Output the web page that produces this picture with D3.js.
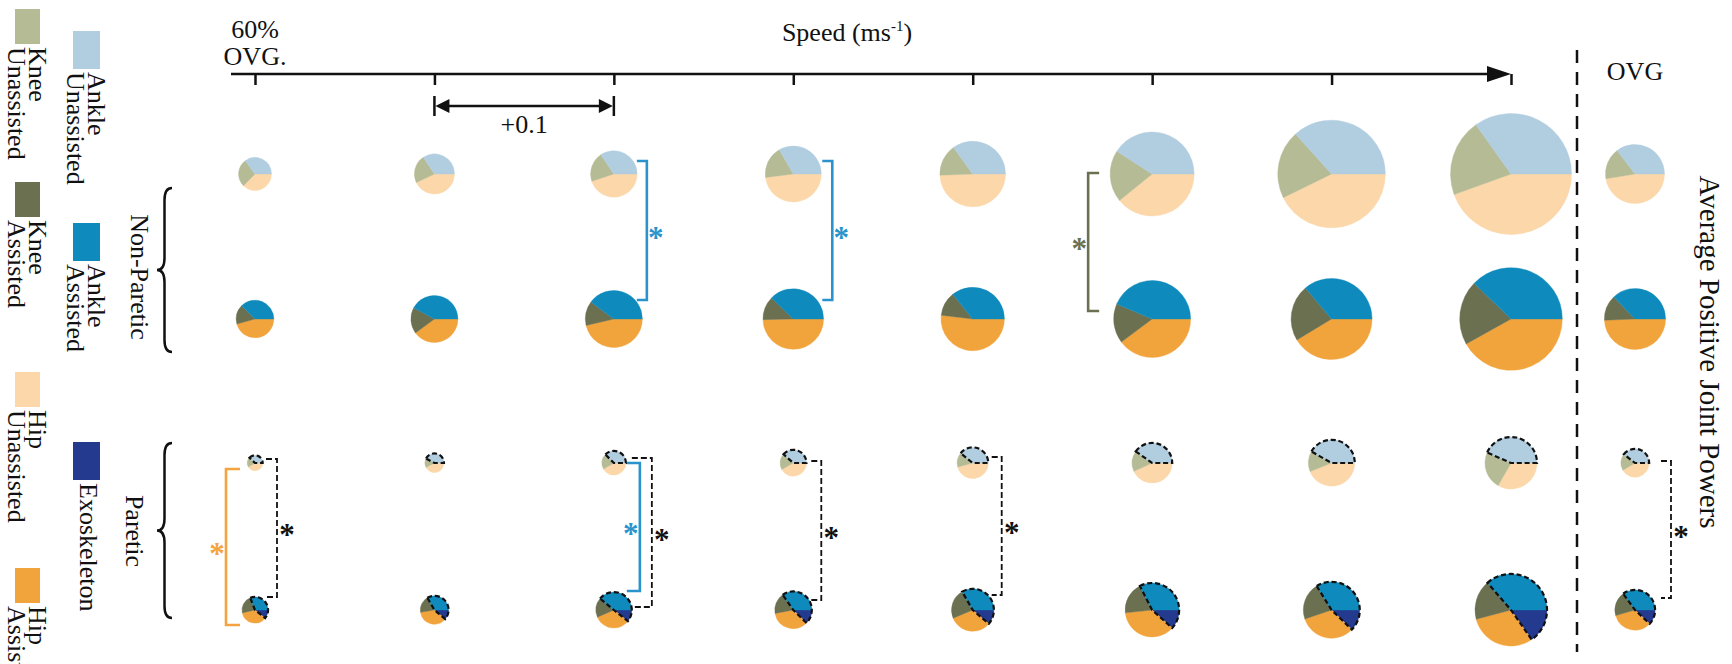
<!DOCTYPE html>
<html>
<head>
<meta charset="utf-8">
<script src="https://cdn.jsdelivr.net/npm/d3@7"></script>
<style>
  body { margin: 0; background: #fff; }
  svg { display: block; }
  text { font-family: "Liberation Serif", "Times New Roman", serif; fill: #111; }
</style>
</head>
<body>
<svg id="chart" width="1732" height="664"></svg>
<script>
// Treadmill speed steps: 60% of overground speed, then +0.1 m/s per step
const speeds = ["60% OVG", "+0.1", "+0.2", "+0.3", "+0.4", "+0.5", "+0.6", "+0.7"];
// Last condition: overground walking
const conditions = [...speeds, "OVG"];

// Average positive joint power (W/kg), one value per condition
// Non-paretic limb, unassisted
const npUnassistedAnkle = [0.047, 0.068, 0.092, 0.129, 0.186, 0.356, 0.524, 0.630, 0.152];
const npUnassistedKnee  = [0.037, 0.045, 0.055, 0.072, 0.083, 0.174, 0.294, 0.374, 0.074];
const npUnassistedHip   = [0.050, 0.085, 0.120, 0.186, 0.263, 0.341, 0.611, 0.804, 0.204];
// Non-paretic limb, assisted
const npAssistedAnkle = [0.066, 0.115, 0.160, 0.171, 0.178, 0.319, 0.293, 0.491, 0.172];
const npAssistedKnee  = [0.029, 0.049, 0.055, 0.057, 0.061, 0.122, 0.182, 0.264, 0.062];
const npAssistedHip   = [0.080, 0.109, 0.186, 0.225, 0.258, 0.291, 0.335, 0.545, 0.228];
// Paretic limb, unassisted
const pUnassistedAnkle = [0.011, 0.019, 0.027, 0.033, 0.047, 0.080, 0.111, 0.145, 0.039];
const pUnassistedKnee  = [0.006, 0.007, 0.015, 0.017, 0.018, 0.033, 0.038, 0.078, 0.019];
const pUnassistedHip   = [0.012, 0.019, 0.030, 0.036, 0.055, 0.086, 0.117, 0.111, 0.041];
// Paretic limb, assisted (biological ankle + exoskeleton contribution)
const pAssistedAnkle = [0.026, 0.033, 0.062, 0.059, 0.074, 0.117, 0.133, 0.233, 0.070];
const pAssistedKnee  = [0.019, 0.019, 0.028, 0.031, 0.051, 0.069, 0.084, 0.114, 0.039];
const pAssistedHip   = [0.030, 0.036, 0.052, 0.059, 0.072, 0.132, 0.128, 0.196, 0.067];
const pAssistedExo   = [0.009, 0.011, 0.017, 0.021, 0.025, 0.042, 0.048, 0.098, 0.024];

// Legend entries
const legendLeft  = [["Knee", "Unassisted"], ["Knee", "Assisted"], ["Hip", "Unassisted"], ["Hip", "Assisted"]];
const legendRight = [["Ankle", "Unassisted"], ["Ankle", "Assisted"], ["Exoskeleton"]];

// Significant differences (*): column, rows compared, colour group
const significance = [
  { cond: "+0.2", rows: ["npU", "npA"], group: "ankle" },
  { cond: "+0.3", rows: ["npU", "npA"], group: "ankle" },
  { cond: "+0.5", rows: ["npU", "npA"], group: "knee" },
  { cond: "60% OVG", rows: ["pU", "pA"], group: "hip" },
  { cond: "60% OVG", rows: ["pU", "pA"], group: "total" },
  { cond: "+0.2", rows: ["pU", "pA"], group: "ankle" },
  { cond: "+0.2", rows: ["pU", "pA"], group: "total" },
  { cond: "+0.3", rows: ["pU", "pA"], group: "total" },
  { cond: "+0.4", rows: ["pU", "pA"], group: "total" },
  { cond: "OVG", rows: ["pU", "pA"], group: "total" }
];

const colors = {
  ankleU: "#b1cde0", kneeU: "#b5bb95", hipU: "#fbd7a9",
  ankleA: "#0f8abc", kneeA: "#6a7050", hipA: "#f2a43c", exo: "#243a8f"
};
const bracketColors = { ankle: "#2a93cb", knee: "#6a7050", hip: "#f4a43e", total: "#111" };

const svg = d3.select("#chart");

// ---- scales ----
const x = d3.scalePoint().domain(speeds).range([255, 1511]);
const xc = c => c === "OVG" ? 1635 : x(c);
const rowY = { npU: 174, npA: 319, pU: 463, pA: 610 };
const radius = d3.scaleSqrt().domain([0, 1]).range([0, 45]);

const rows = [
  { key: "npU", ankle: npUnassistedAnkle, knee: npUnassistedKnee, hip: npUnassistedHip, exo: null, assisted: false, outline: false },
  { key: "npA", ankle: npAssistedAnkle, knee: npAssistedKnee, hip: npAssistedHip, exo: null, assisted: true, outline: false },
  { key: "pU", ankle: pUnassistedAnkle, knee: pUnassistedKnee, hip: pUnassistedHip, exo: null, assisted: false, outline: true },
  { key: "pA", ankle: pAssistedAnkle, knee: pAssistedKnee, hip: pAssistedHip, exo: pAssistedExo, assisted: true, outline: true }
];

// slices run clockwise from 3 o'clock: exoskeleton, hip, knee, ankle
const pie = d3.pie().sort(null).value(d => d.v)
  .startAngle(Math.PI / 2).endAngle(Math.PI / 2 + 2 * Math.PI);

const pieData = [];
rows.forEach(row => {
  conditions.forEach((c, i) => {
    const parts = [
      { joint: "exo", v: row.exo ? row.exo[i] : 0 },
      { joint: "hip", v: row.hip[i] },
      { joint: "knee", v: row.knee[i] },
      { joint: "ankle", v: row.ankle[i] }
    ];
    const total = d3.sum(parts, p => p.v);
    pieData.push({ row, cond: c, i, parts, total, r: radius(total) });
  });
});

const fillOf = (joint, assisted) => {
  if (joint === "exo") return colors.exo;
  return colors[joint + (assisted ? "A" : "U")];
};

const pies = svg.append("g").attr("class", "pies")
  .selectAll("g").data(pieData).join("g")
  .attr("transform", d => `translate(${xc(d.cond)},${rowY[d.row.key]})`);

pies.each(function (d) {
  const g = d3.select(this);
  const arc = d3.arc().innerRadius(0).outerRadius(d.r);
  const arcs = pie(d.parts);
  g.selectAll("path.slice").data(arcs.filter(a => a.data.v > 0)).join("path")
    .attr("class", "slice")
    .attr("d", arc)
    .attr("fill", a => fillOf(a.data.joint, d.row.assisted))
    .attr("stroke", a => fillOf(a.data.joint, d.row.assisted))
    .attr("stroke-width", 0.4);
  if (d.row.outline) {
    // dashed outline around total ankle power (biological + exoskeleton)
    const ankleArc = arcs.find(a => a.data.joint === "ankle");
    const exoArc = arcs.find(a => a.data.joint === "exo");
    const start = ankleArc.startAngle;
    const end = ankleArc.endAngle + (exoArc.endAngle - exoArc.startAngle);
    g.append("path")
      .attr("d", d3.arc().innerRadius(0).outerRadius(d.r)({ startAngle: start, endAngle: end }))
      .attr("fill", "none").attr("stroke", "#111")
      .attr("stroke-width", 2.2).attr("stroke-dasharray", "5,2.8");
  }
});

// ---- speed axis ----
const axisY = 74;
const axis = svg.append("g").attr("transform", `translate(0,${axisY})`)
  .call(d3.axisBottom(x).tickSize(11).tickSizeOuter(0).tickFormat(""));
axis.select(".domain").remove();
axis.selectAll(".tick line").attr("stroke", "#111").attr("stroke-width", 2.5);
svg.append("line").attr("x1", 231).attr("x2", x.range()[1] - 8)
  .attr("y1", axisY).attr("y2", axisY).attr("stroke", "#111").attr("stroke-width", 2.5);
const xEnd = x.range()[1];
svg.append("path")
  .attr("d", `M${xEnd},${axisY} L${xEnd - 24},${axisY - 8} L${xEnd - 24},${axisY + 8} Z`)
  .attr("fill", "#111");

svg.append("text").attr("x", x(speeds[0])).attr("y", 38).attr("text-anchor", "middle")
  .attr("font-size", 26).text("60%");
svg.append("text").attr("x", x(speeds[0])).attr("y", 65).attr("text-anchor", "middle")
  .attr("font-size", 26).text("OVG.");

const speedLabel = svg.append("text").attr("x", 847).attr("y", 41)
  .attr("text-anchor", "middle").attr("font-size", 26);
speedLabel.append("tspan").text("Speed (ms");
speedLabel.append("tspan").attr("font-size", 15).attr("dy", -10).text("-1");
speedLabel.append("tspan").attr("dy", 10).text(")");

// +0.1 step indicator
const s0 = x(speeds[1]), s1 = x(speeds[2]), sy = 106;
const step = svg.append("g").attr("stroke", "#111").attr("stroke-width", 2.5);
step.append("line").attr("x1", s0 + 6).attr("x2", s1 - 6).attr("y1", sy).attr("y2", sy);
step.append("line").attr("x1", s0).attr("x2", s0).attr("y1", sy - 10).attr("y2", sy + 10);
step.append("line").attr("x1", s1).attr("x2", s1).attr("y1", sy - 10).attr("y2", sy + 10);
svg.append("path")
  .attr("d", `M${s0 + 1},${sy} L${s0 + 15},${sy - 7} L${s0 + 15},${sy + 7} Z M${s1 - 1},${sy} L${s1 - 15},${sy - 7} L${s1 - 15},${sy + 7} Z`)
  .attr("fill", "#111");
svg.append("text").attr("x", (s0 + s1) / 2).attr("y", 133).attr("text-anchor", "middle")
  .attr("font-size", 26).text("+0.1");

// ---- overground separator ----
svg.append("line").attr("x1", 1577).attr("x2", 1577).attr("y1", 50).attr("y2", 652)
  .attr("stroke", "#111").attr("stroke-width", 2.5).attr("stroke-dasharray", "13,9");
svg.append("text").attr("x", xc("OVG")).attr("y", 80).attr("text-anchor", "middle")
  .attr("font-size", 26).text("OVG");

svg.append("text").attr("transform", "translate(1700,352) rotate(90)")
  .attr("text-anchor", "middle").attr("font-size", 29).text("Average Positive Joint Powers");

// ---- limb braces ----
function brace(xEnd, xTip, y0, y1) {
  const xm = (xEnd + xTip) / 2, ym = (y0 + y1) / 2, q = 12;
  return `M${xEnd},${y0} Q${xm},${y0} ${xm},${y0 + q} L${xm},${ym - q} Q${xm},${ym} ${xTip},${ym}` +
         ` Q${xm},${ym} ${xm},${ym + q} L${xm},${y1 - q} Q${xm},${y1} ${xEnd},${y1}`;
}
svg.append("path").attr("d", brace(172, 157, 188, 352))
  .attr("fill", "none").attr("stroke", "#111").attr("stroke-width", 2.5);
svg.append("path").attr("d", brace(172, 157, 443, 618))
  .attr("fill", "none").attr("stroke", "#111").attr("stroke-width", 2.5);
svg.append("text").attr("transform", "translate(131,277) rotate(90)")
  .attr("text-anchor", "middle").attr("font-size", 26).text("Non-Paretic");
svg.append("text").attr("transform", "translate(126,531) rotate(90)")
  .attr("text-anchor", "middle").attr("font-size", 26).text("Paretic");

// ---- significance brackets ----
// dx: vertical bar offset from column centre; tick: tick length; top/bottom: offsets from row centres; star: side
const bracketLayout = [
  { dx: 33, tick: 10, top: -13, bottom: -19, star: 1 },
  { dx: 39, tick: 10, top: -13, bottom: -19, star: 1 },
  { dx: -64, tick: 11, top: -1, bottom: -8, star: -1 },
  { dx: -29, tick: 14, top: 6, bottom: 15, star: -1 },
  { dx: 22, tick: 11, top: -4, bottom: -13, star: 1 },
  { dx: 26, tick: 13, top: 0, bottom: -19, star: -1 },
  { dx: 38, tick: 20, top: -5, bottom: -3, star: 1 },
  { dx: 28, tick: 10, top: -2, bottom: -10, star: 1 },
  { dx: 29, tick: 10, top: -6, bottom: -15, star: 1 },
  { dx: 36, tick: 10, top: -2, bottom: -12, star: 1 }
];
significance.forEach((s, k) => {
  const L = bracketLayout[k];
  const xv = xc(s.cond) + L.dx;
  const xt = xv - Math.sign(L.dx) * L.tick;
  const y0 = rowY[s.rows[0]] + L.top, y1 = rowY[s.rows[1]] + L.bottom;
  const col = bracketColors[s.group];
  const dashed = s.group === "total";
  svg.append("path")
    .attr("d", `M${xt},${y0} L${xv},${y0} L${xv},${y1} L${xt},${y1}`)
    .attr("fill", "none").attr("stroke", col)
    .attr("stroke-width", dashed ? 1.8 : 2.6)
    .attr("stroke-dasharray", dashed ? "6,3" : null);
  svg.append("text")
    .attr("x", xv + L.star * (dashed ? 10 : 9)).attr("y", (y0 + y1) / 2 + 17)
    .attr("text-anchor", "middle").attr("font-size", 31).attr("font-weight", "bold")
    .style("fill", col).text("*");
});

// ---- legend ----
const legendLeftFill = [colors.kneeU, colors.kneeA, colors.hipU, colors.hipA];
const legendLeftY = [9, 182, 372, 568];
const legendRightFill = [colors.ankleU, colors.ankleA, colors.exo];
const legendRightY = [31, 223, 442];

function legendItem(label, fill, x0, w, y0, h, base) {
  svg.append("rect").attr("x", x0).attr("y", y0).attr("width", w).attr("height", h).attr("fill", fill);
  const t = svg.append("text").attr("transform", `translate(${base},${y0 + h + 3}) rotate(90)`)
    .attr("font-size", 26);
  label.forEach((line, j) => t.append("tspan").attr("x", 0).attr("y", j * 21).text(line));
}
legendLeft.forEach((lab, i) => legendItem(lab, legendLeftFill[i], 15, 25, legendLeftY[i], 35, 29));
legendRight.forEach((lab, i) => legendItem(lab, legendRightFill[i], 73, 27, legendRightY[i], 38, lab.length > 1 ? 88 : 80));
</script>
</body>
</html>
